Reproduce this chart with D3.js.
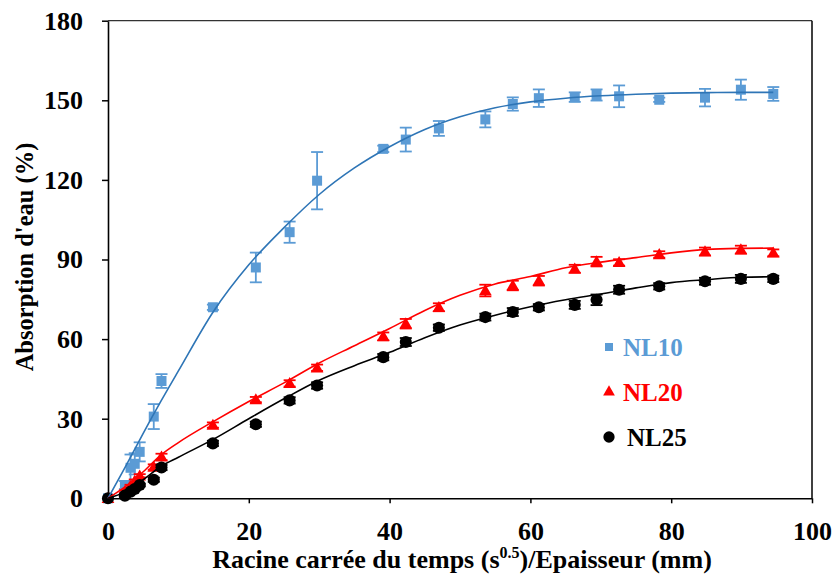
<!DOCTYPE html>
<html>
<head>
<meta charset="utf-8">
<script src="https://cdn.jsdelivr.net/npm/d3@7/dist/d3.min.js"></script>
<style>
  html, body { margin: 0; padding: 0; background: #fff; }
  svg { display: block; }
  text { font-family: "Liberation Serif", "Times New Roman", serif; font-weight: bold; }
</style>
</head>
<body>
<svg id="chart" width="837" height="577"></svg>
<script>
// ---- Data ----
const xValues = [0, 2.4, 3.2, 3.8, 4.5, 6.5, 7.6, 14.9, 21.0, 25.8, 29.7, 39.1, 42.3, 47.0, 53.6, 57.5, 61.2, 66.3, 69.4, 72.6, 78.3, 84.8, 89.9, 94.5];

const nl10 = [0, 5, 11.5, 13, 17.5, 30.8, 44.2, 72, 87, 100.3, 119.7, 131.7, 135.2, 139.4, 142.8, 148.6, 150.8, 151.2, 152, 151.5, 150.2, 151, 154, 152.4];
const nl10Err = [0, 1.5, 5, 4, 3.6, 4.7, 2.6, 1, 5.6, 4, 10.8, 1.2, 4.5, 2.8, 3, 2.5, 3.3, 1.8, 2.1, 4.1, 0.8, 3.3, 3.8, 2.6];

const nl20 = [0, 2.5, 4.5, 6.5, 8.5, 11.8, 15.6, 27.6, 37.2, 43.3, 49.2, 61, 65.8, 72, 78.3, 80.2, 82, 86.5, 89.2, 88.9, 91.9, 93, 93.7, 92.5];
const nl20Err = [0, 0.5, 0.6, 0.6, 0.6, 1, 1.2, 1, 1, 1.2, 1.2, 1.5, 1.8, 1.5, 2.2, 1.8, 1.8, 1.5, 1.8, 1.2, 1.2, 1.5, 1.5, 1.3];

const nl25 = [0, 1, 2.5, 3.5, 5, 7, 11.6, 20.7, 27.9, 36.9, 42.5, 53.2, 58.9, 64.3, 68.3, 70.2, 72, 72.9, 74.8, 78.6, 79.9, 81.8, 82.7, 82.7];
const nl25Err = [0, 0.4, 0.5, 0.5, 0.5, 0.8, 1, 1, 1, 1.2, 1.2, 1.2, 1.5, 1.2, 1.3, 1.5, 1.2, 1.5, 2, 1.5, 1.2, 1.3, 1.5, 1.2];

// fitted curves
const fitX = [0, 2.5, 5, 7.5, 10, 15, 20, 25, 30, 35, 40, 45, 50, 55, 60, 65, 70, 75, 80, 85, 90, 94.5];
const fitNL10 = [0, 12, 24.5, 36.5, 48, 70.5, 88, 102, 114.5, 124.5, 132.5, 139, 143.8, 147.2, 149.4, 150.8, 151.7, 152.3, 152.7, 152.9, 153, 153];
const fitNL20 = [0, 4.5, 10, 16.3, 21, 29, 36.5, 43.5, 51, 57.5, 64, 70.8, 76.5, 80.8, 83.6, 86.9, 89, 90.7, 92.5, 93.8, 94.2, 94.3];
const fitNL25 = [0, 2.5, 7, 12, 15.5, 22.3, 30, 37.5, 44.5, 50, 55, 60.5, 65.3, 69, 72.2, 74.8, 77, 79.3, 81.3, 82.4, 83.3, 83.5];

const seriesNames = ["NL10", "NL20", "NL25"];
const xTicks = [0, 20, 40, 60, 80, 100];
const yTicks = [0, 30, 60, 90, 120, 150, 180];

// ---- Chart ----
const svg = d3.select("#chart");
const x = d3.scaleLinear().domain([0, 100]).range([108, 812]);
const y = d3.scaleLinear().domain([0, 180]).range([498.3, 20.7]);

const series = [
  { name: seriesNames[0], vals: nl10, err: nl10Err, fit: fitNL10, marker: "#5B9BD5", line: "#2E75B6", shape: "square" },
  { name: seriesNames[1], vals: nl20, err: nl20Err, fit: fitNL20, marker: "#FF0000", line: "#FF0000", shape: "triangle" },
  { name: seriesNames[2], vals: nl25, err: nl25Err, fit: fitNL25, marker: "#000000", line: "#000000", shape: "circle" }
];

// frame (top and right)
svg.append("line").attr("x1", x(0)).attr("x2", x(100)).attr("y1", y(180)).attr("y2", y(180))
  .attr("stroke", "#333").attr("stroke-width", 1.3);
svg.append("line").attr("x1", x(100)).attr("x2", x(100)).attr("y1", y(180)).attr("y2", y(0))
  .attr("stroke", "#000").attr("stroke-width", 1.5);

// axes
const xAxis = d3.axisBottom(x).tickValues(xTicks).tickSize(5).tickPadding(18).tickSizeOuter(0);
const yAxis = d3.axisLeft(y).tickValues(yTicks).tickSize(6).tickPadding(19).tickSizeOuter(0);

const gx = svg.append("g").attr("transform", `translate(0,${y(0)})`).call(xAxis);
const gy = svg.append("g").attr("transform", `translate(${x(0)},0)`).call(yAxis);
[gx, gy].forEach(g => {
  g.select(".domain").attr("stroke", "#000").attr("stroke-width", 1.6);
  g.selectAll(".tick line").attr("stroke", "#000").attr("stroke-width", 1.5);
  g.selectAll(".tick text").attr("fill", "#000")
    .style("font-family", '"Liberation Serif", serif').style("font-weight", "bold").style("font-size", "26px");
});

// data layers
const sym = {
  square: d3.symbol().type(d3.symbolSquare).size(100),
  triangle: d3.symbol().type(d3.symbolTriangle).size(70),
  circle: d3.symbol().type(d3.symbolCircle).size(115)
};

series.forEach(s => {
  const pts = xValues.map((xv, i) => ({ x: xv, y: s.vals[i], e: s.err[i] }));
  const g = svg.append("g");
  // error bars
  const eb = g.selectAll(".eb").data(pts.filter(p => p.e > 0)).enter().append("g");
  eb.append("line").attr("x1", d => x(d.x)).attr("x2", d => x(d.x))
    .attr("y1", d => y(d.y - d.e)).attr("y2", d => y(d.y + d.e))
    .attr("stroke", s.marker).attr("stroke-width", 1.8);
  eb.append("line").attr("x1", d => x(d.x) - 6).attr("x2", d => x(d.x) + 6)
    .attr("y1", d => y(d.y + d.e)).attr("y2", d => y(d.y + d.e))
    .attr("stroke", s.marker).attr("stroke-width", 1.8);
  eb.append("line").attr("x1", d => x(d.x) - 6).attr("x2", d => x(d.x) + 6)
    .attr("y1", d => y(d.y - d.e)).attr("y2", d => y(d.y - d.e))
    .attr("stroke", s.marker).attr("stroke-width", 1.8);
  // markers
  g.selectAll(".pt").data(pts).enter().append("path")
    .attr("d", sym[s.shape])
    .attr("transform", d => `translate(${x(d.x)},${y(d.y) + (s.shape === "triangle" ? 1 : 0)})`)
    .attr("fill", s.marker);
});

// fitted curves on top
series.forEach(s => {
  const line = d3.line().x((d, i) => x(fitX[i])).y(d => y(d)).curve(d3.curveMonotoneX);
  svg.append("path").attr("d", line(s.fit)).attr("fill", "none")
    .attr("stroke", s.line).attr("stroke-width", 1.6);
});

// legend
const legendY = [347, 392, 437];
const legendTextX = [623, 623, 627];
series.forEach((s, i) => {
  const small = {
    square: d3.symbol().type(d3.symbolSquare).size(64),
    triangle: d3.symbol().type(d3.symbolTriangle).size(60),
    circle: d3.symbol().type(d3.symbolCircle).size(100)
  };
  svg.append("path").attr("d", small[s.shape]())
    .attr("transform", `translate(609,${legendY[i]})`).attr("fill", s.marker);
  svg.append("text").attr("x", legendTextX[i]).attr("y", legendY[i] + 8.5)
    .attr("fill", s.marker).style("font-size", "25px").text(s.name);
});

// axis titles
const xt = svg.append("text").attr("x", 462).attr("y", 568).attr("text-anchor", "middle")
  .style("font-size", "26px").attr("fill", "#000");
xt.append("tspan").text("Racine carrée du temps (s");
xt.append("tspan").attr("dy", -10).style("font-size", "16px").text("0.5");
xt.append("tspan").attr("dy", 10).text(")/Epaisseur (mm)");

svg.append("text").attr("transform", "translate(33,257) rotate(-90)").attr("text-anchor", "middle")
  .style("font-size", "24.5px").attr("fill", "#000").text("Absorption d'eau (%)");
</script>
</body>
</html>
